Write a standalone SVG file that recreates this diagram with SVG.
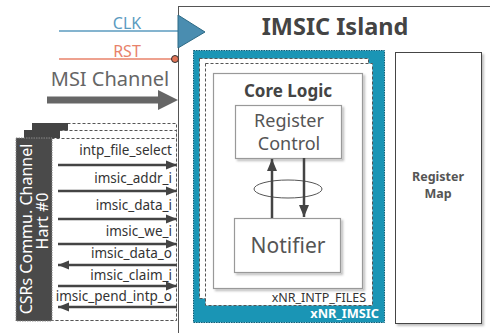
<svg xmlns="http://www.w3.org/2000/svg" width="490" height="333" viewBox="0 0 490 333">
<style>
text{font-family:"Noto Sans","Open Sans","DejaVu Sans",sans-serif}
.sig{font-size:13.5px;fill:#333;text-anchor:end}
.sl{stroke:#444;stroke-width:2.5;fill:none}
.dash{fill:#fff;stroke:#555;stroke-width:1;stroke-dasharray:3,2}
.tab{fill:#444}
.box{fill:#fff;stroke:#999;stroke-width:1.2}
.gl{fill:#555;text-anchor:middle}
</style>
<defs>
<marker id="ah" viewBox="0 0 12 10" refX="12" refY="5" markerWidth="12" markerHeight="10" markerUnits="userSpaceOnUse" orient="auto">
<path d="M0,0 L12,5 L0,10 Z" fill="#444"/>
</marker>
<marker id="ah2" viewBox="0 0 12 10" refX="12" refY="5" markerWidth="11" markerHeight="10" markerUnits="userSpaceOnUse" orient="auto">
<path d="M0,0 L12,5 L0,10 Z" fill="#444"/>
</marker>
<filter id="sh" x="-10%" y="-10%" width="130%" height="130%">
<feDropShadow dx="2" dy="2" stdDeviation="1" flood-color="#000" flood-opacity="0.25"/>
</filter>
</defs>

<!-- Island -->
<g id="island">
<rect x="178.5" y="6.5" width="340" height="340" fill="#fff" stroke="#555" stroke-width="1"/>
<text x="335" y="35" font-size="23.5" font-weight="bold" fill="#444" text-anchor="middle">IMSIC Island</text>
</g>

<!-- clock / reset inputs -->
<g id="clk">
<line x1="59" y1="31" x2="178" y2="31" stroke="#5b9bbf" stroke-width="1.5"/>
<text x="127" y="29" font-size="16" fill="#5b9bbf" text-anchor="middle">CLK</text>
<path d="M178,15 L205,32 L178,48 Z" fill="#4a8db0" stroke="#2d6a85" stroke-width="1"/>
</g>
<g id="rst">
<line x1="59" y1="59" x2="175" y2="59" stroke="#e8826a" stroke-width="1.5"/>
<text x="127" y="57" font-size="16" fill="#e8826a" text-anchor="middle">RST</text>
<circle cx="175" cy="59" r="3.5" fill="#e27355" stroke="#333" stroke-width="1"/>
</g>
<g id="msi">
<text x="110" y="86" font-size="20" fill="#666" text-anchor="middle">MSI Channel</text>
<path d="M47,96.5 L158,96.5 L158,90 L178,100 L158,110 L158,103.5 L47,103.5 Z" fill="#666"/>
</g>

<!-- xNR_IMSIC -->
<g id="xnr_imsic">
<rect x="193.5" y="50.5" width="191" height="272" fill="#1a95b5" stroke="#0f5f78" stroke-width="1" stroke-dasharray="1.5,1"/>
<text x="379" y="318" font-size="12.8" font-weight="bold" fill="#fff" text-anchor="end">xNR_IMSIC</text>
</g>

<!-- xNR_INTP_FILES -->
<g id="xnr_intp_files">
<rect x="199.5" y="58.5" width="169" height="240" class="dash"/>
<rect x="205.5" y="63.5" width="167" height="242" class="dash"/>
<text x="366" y="302" font-size="12.5" fill="#333" text-anchor="end">xNR_INTP_FILES</text>
</g>

<!-- Core Logic -->
<g id="core_logic">
<rect x="213.5" y="73.5" width="149" height="215" class="box" filter="url(#sh)"/>
<text x="288" y="97" font-size="17" font-weight="bold" fill="#444" text-anchor="middle">Core Logic</text>
</g>
<g id="register_control">
<rect x="235.5" y="105.5" width="106" height="53" class="box" stroke="#888" filter="url(#sh)"/>
<text x="289" y="127" font-size="18" class="gl">Register</text>
<text x="289" y="150" font-size="18" class="gl">Control</text>
</g>
<g id="notifier">
<rect x="234.5" y="218.5" width="106" height="54" class="box" stroke="#888" filter="url(#sh)"/>
<text x="288" y="253" font-size="21" class="gl">Notifier</text>
</g>

<g id="core_connectors">
<ellipse cx="288" cy="189" rx="34" ry="9" fill="none" stroke="#555" stroke-width="1"/>
<line x1="272" y1="218" x2="272" y2="159" class="sl" stroke-width="3" marker-end="url(#ah)"/>
<line x1="304" y1="158" x2="304" y2="217" class="sl" stroke-width="3" marker-end="url(#ah)"/>
</g>

<!-- Register Map -->
<g id="register_map">
<rect x="395.5" y="52.5" width="86" height="271" fill="#fff" stroke="#444" stroke-width="1" filter="url(#sh)"/>
<text x="438" y="181" font-size="12.5" font-weight="bold" fill="#555" text-anchor="middle">Register</text>
<text x="438" y="198" font-size="12.5" font-weight="bold" fill="#555" text-anchor="middle">Map</text>
</g>

<!-- CSR channel stack -->
<g id="csr_channel">
<rect x="32.5" y="123.5" width="144" height="190" class="dash" stroke="#777"/>
<rect x="32" y="123" width="36" height="8" class="tab"/>
<rect x="24.5" y="130.5" width="152" height="190" class="dash" stroke="#777"/>
<rect x="24" y="130" width="36" height="8" class="tab"/>
<rect x="16.5" y="138.5" width="160" height="182" class="dash" stroke="#777"/>
<rect x="16" y="138" width="36" height="183" fill="#4a4a4a" stroke="#888" stroke-width="1" stroke-dasharray="1.5,1"/>
<text transform="translate(32,229) rotate(-90)" font-size="16" fill="#fff" text-anchor="middle">CSRs Commu. Channel</text>
<text transform="translate(48,221) rotate(-90)" font-size="16" fill="#fff" text-anchor="middle">Hart #0</text>
</g>

<g id="signals">
<text x="172" y="155" class="sig">intp_file_select</text>
<text x="172" y="183" class="sig">imsic_addr_i</text>
<text x="172" y="210" class="sig">imsic_data_i</text>
<text x="172" y="236" class="sig">imsic_we_i</text>
<text x="172" y="258" class="sig">imsic_data_o</text>
<text x="172" y="280" class="sig">imsic_claim_i</text>
<text x="172" y="301" class="sig">imsic_pend_intp_o</text>
</g>

<g id="connectors">
<line x1="58" y1="165" x2="177" y2="165" class="sl" marker-end="url(#ah2)"/>
<line x1="58" y1="191" x2="177" y2="191" class="sl" marker-end="url(#ah2)"/>
<line x1="58" y1="219" x2="177" y2="219" class="sl" marker-end="url(#ah2)"/>
<line x1="58" y1="244" x2="177" y2="244" class="sl" marker-end="url(#ah2)"/>
<line x1="177" y1="265" x2="58" y2="265" class="sl" marker-end="url(#ah2)"/>
<line x1="58" y1="286" x2="177" y2="286" class="sl" marker-end="url(#ah2)"/>
<line x1="177" y1="307" x2="58" y2="307" class="sl" marker-end="url(#ah2)"/>
</g>
</svg>
